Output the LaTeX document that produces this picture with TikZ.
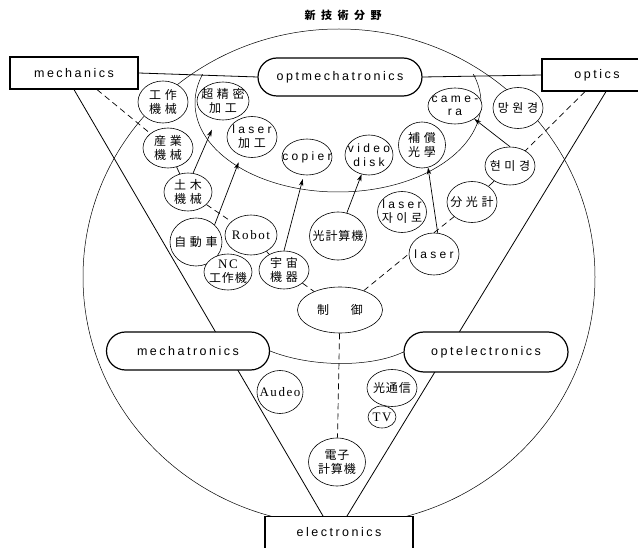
\documentclass[tikz,border=0pt]{standalone}
\usepackage{fontspec}
\setmainfont{Liberation Sans}
\newfontfamily\lsf[LetterSpace=20]{Liberation Sans}
\newfontfamily\nsf[LetterSpace=28]{Liberation Sans}
\newfontfamily\serf[LetterSpace=12]{Liberation Serif}
\newfontfamily\cjk[LetterSpace=30]{Noto Sans CJK JP}
\newfontfamily\cjkn[LetterSpace=8]{Noto Sans CJK JP}
\newfontfamily\krf[LetterSpace=30]{Noto Sans CJK KR}
\newfontfamily\ttl[LetterSpace=50]{Noto Sans CJK JP}
\usetikzlibrary{shapes.geometric,shapes.misc,arrows.meta}
\pgfdeclarelayer{bg}
\pgfsetlayers{bg,main}
\begin{document}
\begin{tikzpicture}[x=1pt,y=-1pt,
  box/.style={draw, line width=1.2pt, rectangle, fill=white, inner sep=0pt,
    font=\lsf\fontsize{12.5}{15}\selectfont},
  pill/.style={draw, line width=1.2pt, rounded rectangle, fill=white, inner sep=0pt,
    font=\lsf\fontsize{12.5}{15}\selectfont},
  bub/.style={draw, ellipse, fill=white, inner sep=0pt, line width=0.6pt},
  cj/.style={align=center, inner sep=0pt, font=\cjk\fontsize{12}{14}\selectfont},
  kr/.style={align=center, inner sep=0pt, font=\krf\fontsize{12}{14}\selectfont},
  ls/.style={align=center, inner sep=0pt, font=\nsf\fontsize{12}{13.5}\selectfont},
  sr/.style={align=center, inner sep=0pt, font=\serf\fontsize{13}{14}\selectfont},
  con/.style={line width=0.7pt},
  arr/.style={line width=0.7pt, -{Stealth[length=7pt,width=4.5pt]}},
  dsh/.style={line width=0.7pt, dash pattern=on 6pt off 4pt},
  thinline/.style={line width=0.5pt},
  triline/.style={line width=0.8pt}]
\useasboundingbox (0,0) rectangle (638,548);

% title
\node[font=\ttl\bfseries\fontsize{11}{13}\selectfont] (title) at (343,15) {新技術分野};

% boxes
\node[box, minimum width=128pt, minimum height=32pt] (mech) at (74,73) {mechanics};
\node[box, minimum width=110pt, minimum height=32pt] (optics) at (597,75) {optics};
\node[box, anchor=north, minimum width=148pt, minimum height=48pt,
      text height=12pt, text depth=20pt] (elec) at (339,516) {electronics};

% pills
\node[pill, minimum width=164pt, minimum height=38pt] (optm) at (340,77) {optmechatronics};
\node[pill, minimum width=163pt, minimum height=38pt] (mechat) at (188,351) {mechatronics};
\node[pill, minimum width=164pt, minimum height=40pt] (optel) at (486,352) {optelectronics};

% bubbles
\node[bub, minimum width=50pt, minimum height=42pt, label={[cj]center:{工作\\機械}}] (kosaku) at (163,102) {};
\node[bub, minimum width=52pt, minimum height=38pt, label={[cj]center:{超精密\\加工}}] (chosei) at (223,101) {};
\node[bub, minimum width=50pt, minimum height=41pt, label={[cj]center:{{\nsf laser}\\加工}}] (laserk) at (252,137) {};
\node[bub, minimum width=50pt, minimum height=36pt, label={[ls]center:{copier}}] (copier) at (307,157) {};
\node[bub, minimum width=48pt, minimum height=40pt, label={[ls]center:{video\\disk}}] (video) at (369,155) {};
\node[bub, minimum width=47pt, minimum height=46pt, label={[cj]center:{補償\\光學}}] (hosho) at (422,145) {};
\node[bub, minimum width=54pt, minimum height=36pt, label={[ls]center:{came-\\ra}}] (camera) at (455,106) {};
\node[bub, minimum width=50pt, minimum height=41pt, label={[kr]center:{망원경}}] (mangwon) at (518,108) {};
\node[bub, minimum width=50pt, minimum height=38pt, label={[kr]center:{현미경}}] (hyeon) at (510,166) {};
\node[bub, minimum width=50pt, minimum height=41pt, label={[cj]center:{分光計}}] (bunko) at (472,202) {};
\node[bub, minimum width=50pt, minimum height=42pt, label={[ls]center:{laser}}] (laser) at (434,254) {};
\node[bub, minimum width=49pt, minimum height=41pt, label={[kr]center:{{\nsf laser}\\자이로}}] (gyro) at (402,212) {};
\node[bub, minimum width=57pt, minimum height=48pt, label={[cj, font=\cjkn\fontsize{12}{14}\selectfont]center:{光計算機}}] (hikari) at (338,236) {};
\node[bub, minimum width=48pt, minimum height=38pt, label={[cj]center:{土木\\機械}}] (doboku) at (188,192) {};
\node[bub, minimum width=50pt, minimum height=40pt, label={[cj]center:{産業\\機械}}] (sangyo) at (168,148) {};
\node[bub, minimum width=52pt, minimum height=48pt, label={[cj]center:{自動車}}] (jidosha) at (196,242) {};
\node[bub, minimum width=52pt, minimum height=40pt, label={[sr]center:{Robot}}] (robot) at (251,235) {};
\node[bub, minimum width=48pt, minimum height=36pt, label={[sr]center:{NC\\{\cjkn\fontsize{12}{14}\selectfont 工作機}}}] (nc) at (228,272) {};
\node[bub, minimum width=50pt, minimum height=38pt, label={[cj]center:{宇宙\\機器}}] (uchu) at (284,270) {};
\node[bub, minimum width=85pt, minimum height=46pt, label={[cj]center:{制\hspace{22pt}御}}] (seigyo) at (340,310) {};
\node[bub, minimum width=46pt, minimum height=43pt, label={[sr]center:{Audeo}}] (audeo) at (280,392) {};
\node[bub, minimum width=50pt, minimum height=37pt, label={[cj, font=\cjkn\fontsize{12}{14}\selectfont]center:{光通信}}] (tsushin) at (392,388) {};
\node[bub, minimum width=28pt, minimum height=22pt, label={[sr, font=\serf\fontsize{13}{14}\selectfont]center:{TV}}] (tv) at (382,417) {};
\node[bub, minimum width=57pt, minimum height=48pt, label={[cj, font=\cjkn\fontsize{12}{14}\selectfont]center:{電子\\計算機}}] (denshi) at (337,462) {};

% background geometry
\begin{pgfonlayer}{bg}
  \draw[thinline] (339,277) ellipse [x radius=256, y radius=248];
  \begin{scope}
    \clip (150,75) rectangle (530,260);
    \draw[thinline] (338,103) ellipse [x radius=143, y radius=89];
  \end{scope}
  \draw[thinline] (mechat.east) .. controls (310,367) and (370,368) .. (optel.west);
  \draw[triline] (mech.south) -- ([xshift=-16pt]elec.north);
  \draw[triline] ([xshift=9pt]optics.south) -- ([xshift=8pt]elec.north);
  \draw[triline] (mech.east) -- (optm.west);
  \draw[triline] (optm.east) -- (optics.west);
\end{pgfonlayer}

% connectors
\draw[con] (sangyo) -- (doboku);
\draw[con] (bunko) -- (hyeon);
\draw[con] (robot) -- (uchu);
\draw[arr, shorten >=11pt] (doboku.75) -- (chosei.250);
\draw[arr, shorten >=7pt] (jidosha.north east) -- (laserk.240);
\draw[arr, shorten >=4pt] (uchu.north) -- (copier.260);
\draw[arr] (hikari) -- (video);
\draw[arr] (laser.80) -- (hosho.285);
\draw[arr] (hyeon.north) -- (camera.south east);
\draw[dsh] ([xshift=23pt]mech.south) -- (sangyo);
\draw[dsh] ([xshift=-12pt]optics.south) -- (hyeon);
\draw[dsh] (doboku) -- (robot);
\draw[dsh] (uchu) -- (seigyo);
\draw[dsh] (seigyo) -- (laser.west);
\draw[dsh] (seigyo) -- (denshi);
\draw[dsh] (laser.north) -- (bunko.south west);
\end{tikzpicture}
\end{document}
